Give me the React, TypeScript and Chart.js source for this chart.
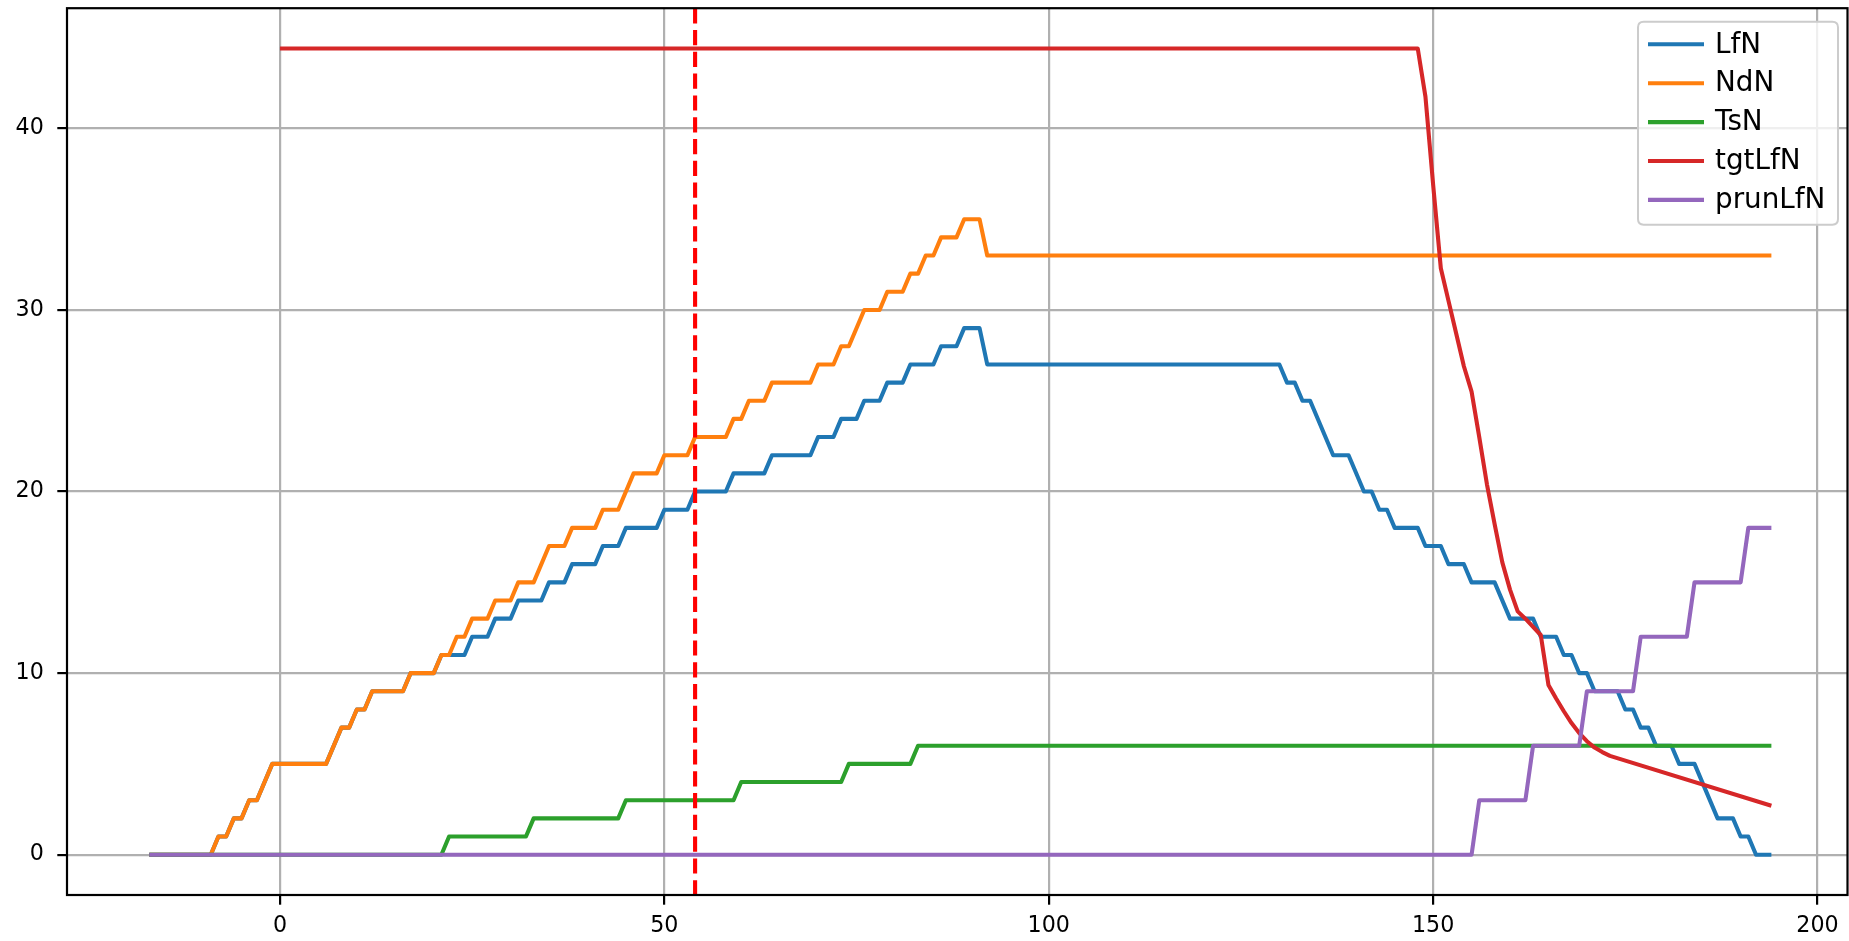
import React, { useEffect, useRef } from "react";
import { Chart, registerables } from "chart.js";

Chart.register(...registerables);

// ---- data (corner points) ----
const seriesNames = ["LfN", "NdN", "TsN", "tgtLfN", "prunLfN"];
const seriesColors = ["#1f77b4", "#ff7f0e", "#2ca02c", "#d62728", "#9467bd"];

const lfnX = [-17, -9, -8, -7, -6, -5, -4, -3, -1, 6, 8, 9, 10, 11, 12, 16, 17, 20, 21, 22, 24, 25, 27, 28, 30, 31, 34, 35, 37, 38, 41, 42, 44, 45, 49, 50, 53, 54, 58, 59, 63, 64, 69, 70, 72, 73, 75, 76, 78, 79, 81, 82, 85, 86, 88, 89, 91, 92, 130, 131, 132, 133, 134, 137, 139, 141, 142, 143, 144, 145, 148, 149, 151, 152, 154, 155, 158, 160, 163, 164, 166, 167, 168, 169, 170, 171, 174, 175, 176, 177, 178, 179, 181, 182, 184, 187, 189, 190, 191, 192, 194];
const lfnY = [0, 0, 1, 1, 2, 2, 3, 3, 5, 5, 7, 7, 8, 8, 9, 9, 10, 10, 11, 11, 11, 12, 12, 13, 13, 14, 14, 15, 15, 16, 16, 17, 17, 18, 18, 19, 19, 20, 20, 21, 21, 22, 22, 23, 23, 24, 24, 25, 25, 26, 26, 27, 27, 28, 28, 29, 29, 27, 27, 26, 26, 25, 25, 22, 22, 20, 20, 19, 19, 18, 18, 17, 17, 16, 16, 15, 15, 13, 13, 12, 12, 11, 11, 10, 10, 9, 9, 8, 8, 7, 7, 6, 6, 5, 5, 2, 2, 1, 1, 0, 0];

const ndnX = [-17, -9, -8, -7, -6, -5, -4, -3, -1, 6, 8, 9, 10, 11, 12, 16, 17, 20, 21, 22, 23, 24, 25, 27, 28, 30, 31, 33, 35, 37, 38, 41, 42, 44, 46, 49, 50, 53, 54, 58, 59, 60, 61, 63, 64, 69, 70, 72, 73, 74, 76, 78, 79, 81, 82, 83, 84, 85, 86, 88, 89, 91, 92, 194];
const ndnY = [0, 0, 1, 1, 2, 2, 3, 3, 5, 5, 7, 7, 8, 8, 9, 9, 10, 10, 11, 11, 12, 12, 13, 13, 14, 14, 15, 15, 17, 17, 18, 18, 19, 19, 21, 21, 22, 22, 23, 23, 24, 24, 25, 25, 26, 26, 27, 27, 28, 28, 30, 30, 31, 31, 32, 32, 33, 33, 34, 34, 35, 35, 33, 33];

const tsnX = [-17, 21, 22, 32, 33, 44, 45, 59, 60, 73, 74, 82, 83, 194];
const tsnY = [0, 0, 1, 1, 2, 2, 3, 3, 4, 4, 5, 5, 6, 6];

const tgtX = [0, 148, 149, 150, 151, 152, 153, 154, 155, 156, 157, 158, 159, 160, 161, 162, 163, 164, 165, 166, 167, 168, 169, 170, 171, 172, 173, 194];
const tgtY = [44.4, 44.4, 41.75, 36.9, 32.3, 30.5, 28.7, 26.9, 25.5, 23.0, 20.4, 18.2, 16.1, 14.6, 13.4, 13.0, 12.55, 12.1, 9.35, 8.6, 7.9, 7.25, 6.7, 6.25, 5.9, 5.65, 5.44, 2.7];

const prunX = [-17, 155, 156, 162, 163, 169, 170, 176, 177, 183, 184, 190, 191, 194];
const prunY = [0, 0, 3, 3, 6, 6, 9, 9, 12, 12, 15, 15, 18, 18];

const markerX = 54; // dashed vertical line

const xTicks = [0, 50, 100, 150, 200];
const yTicks = [0, 10, 20, 30, 40];
const xRange = [-27.7, 203.9];
const yRange = [-2.22, 46.62];

const allX = [lfnX, ndnX, tsnX, tgtX, prunX];
const allY = [lfnY, ndnY, tsnY, tgtY, prunY];

const FONT = "'DejaVu Sans', sans-serif";
const TICK_FS = 22.2;
const LEG_FS = 27.8;
const LW = 4.1;

const frameAndLinePlugin = {
  id: "frameAndLine",
  afterDatasetsDraw(chart: any) {
    const { ctx, chartArea, scales } = chart;
    const px = scales.x.getPixelForValue(markerX);
    ctx.save();
    ctx.beginPath();
    ctx.rect(chartArea.left, chartArea.top, chartArea.right - chartArea.left, chartArea.bottom - chartArea.top);
    ctx.clip();
    ctx.strokeStyle = "#ff0000";
    ctx.lineWidth = LW;
    ctx.setLineDash([15.2, 6.6]);
    ctx.beginPath();
    ctx.moveTo(px, chartArea.top);
    ctx.lineTo(px, chartArea.bottom);
    ctx.stroke();
    ctx.restore();
  },
  afterDraw(chart: any) {
    const { ctx, chartArea } = chart;
    ctx.save();
    ctx.strokeStyle = "#000";
    ctx.lineWidth = 2.2;
    ctx.strokeRect(chartArea.left, chartArea.top, chartArea.right - chartArea.left, chartArea.bottom - chartArea.top);

    // legend (matplotlib-like, upper right inside axes)
    const boxL = 1638;
    const boxR = 1838;
    const boxT = chartArea.top + 13.5;
    const boxH = 203;
    const rowH = 38.9;
    const r = 5.6;
    ctx.beginPath();
    ctx.moveTo(boxL + r, boxT);
    ctx.lineTo(boxR - r, boxT);
    ctx.quadraticCurveTo(boxR, boxT, boxR, boxT + r);
    ctx.lineTo(boxR, boxT + boxH - r);
    ctx.quadraticCurveTo(boxR, boxT + boxH, boxR - r, boxT + boxH);
    ctx.lineTo(boxL + r, boxT + boxH);
    ctx.quadraticCurveTo(boxL, boxT + boxH, boxL, boxT + boxH - r);
    ctx.lineTo(boxL, boxT + r);
    ctx.quadraticCurveTo(boxL, boxT, boxL + r, boxT);
    ctx.closePath();
    ctx.fillStyle = "rgba(255,255,255,0.8)";
    ctx.fill();
    ctx.strokeStyle = "#cccccc";
    ctx.lineWidth = 2;
    ctx.stroke();

    ctx.font = `${LEG_FS}px ${FONT}`;
    ctx.textBaseline = "middle";
    ctx.textAlign = "left";
    seriesNames.forEach((name, i) => {
      const cy = boxT + 22.6 + i * rowH;
      ctx.strokeStyle = seriesColors[i];
      ctx.lineWidth = LW;
      ctx.beginPath();
      ctx.moveTo(boxL + 10, cy);
      ctx.lineTo(boxL + 66, cy);
      ctx.stroke();
      ctx.fillStyle = "#000";
      ctx.fillText(name, boxL + 77, cy + 1);
    });
    ctx.restore();
  },
};

export default function App() {
  const canvasRef = useRef<HTMLCanvasElement | null>(null);

  useEffect(() => {
    document.body.style.margin = "0";
    document.body.style.background = "#fff";
    const canvas = canvasRef.current;
    if (!canvas) return;

    const datasets = seriesNames.map((name, i) => ({
      label: name,
      data: allX[i].map((x, k) => ({ x, y: allY[i][k] })),
      borderColor: seriesColors[i],
      backgroundColor: seriesColors[i],
      borderWidth: LW,
      pointRadius: 0,
      tension: 0,
      fill: false,
      order: seriesNames.length - i,
      borderJoinStyle: "round" as const,
      borderCapStyle: "butt" as const,
    }));

    const chart = new Chart(canvas, {
      type: "line",
      data: { datasets },
      options: {
        animation: false,
        responsive: false,
        maintainAspectRatio: false,
        layout: { padding: { top: 8.2, right: 1.5, left: 0, bottom: 0 } },
        plugins: {
          legend: { display: false },
          tooltip: { enabled: false },
        },
        scales: {
          x: {
            type: "linear",
            min: xRange[0],
            max: xRange[1],
            afterBuildTicks: (scale: any) => {
              scale.ticks = xTicks.map((v) => ({ value: v }));
            },
            afterFit: (scale: any) => {
              scale.height = 46;
              scale.paddingLeft = 0;
              scale.paddingRight = 0;
            },
            ticks: {
              autoSkip: false,
              maxRotation: 0,
              padding: 8,
              color: "#000",
              font: { family: FONT, size: TICK_FS },
              callback: (v: any) => String(v),
            },
            grid: {
              color: "#b0b0b0",
              lineWidth: 2.2,
              tickColor: "#000",
              tickLength: 9.7,
              tickWidth: 2.2,
            },
            border: { display: false },
          },
          y: {
            type: "linear",
            min: yRange[0],
            max: yRange[1],
            afterBuildTicks: (scale: any) => {
              scale.ticks = yTicks.map((v) => ({ value: v }));
            },
            afterFit: (scale: any) => {
              scale.width = 67;
              scale.paddingTop = 0;
              scale.paddingBottom = 0;
            },
            ticks: {
              autoSkip: false,
              padding: 13.5,
              color: "#000",
              font: { family: FONT, size: TICK_FS },
              callback: (v: any) => String(v),
            },
            grid: {
              color: "#b0b0b0",
              lineWidth: 2.2,
              tickColor: "#000",
              tickLength: 9.7,
              tickWidth: 2.2,
            },
            border: { display: false },
          },
        },
      },
      plugins: [frameAndLinePlugin],
    });

    return () => {
      chart.destroy();
    };
  }, []);

  return (
    <div style={{ position: "absolute", left: 0, top: 0, width: 1849, height: 941, background: "#fff" }}>
      <canvas ref={canvasRef} width={1849} height={941} style={{ display: "block", width: 1849, height: 941 }} />
    </div>
  );
}
